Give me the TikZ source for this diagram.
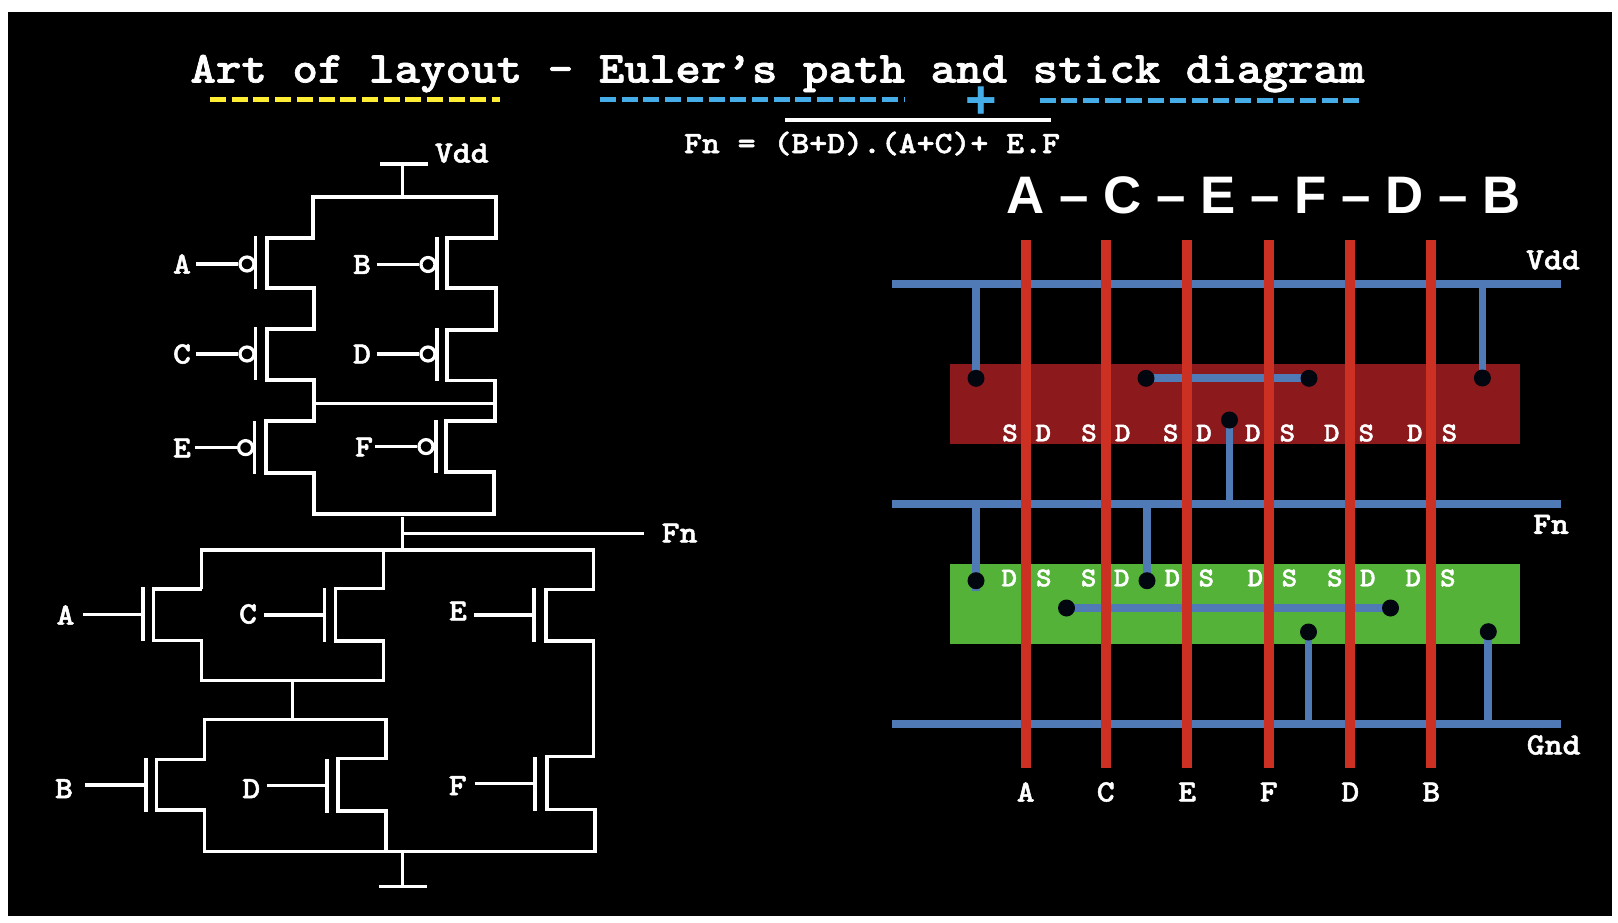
\documentclass[tikz,border=0pt]{standalone}
\usepackage{fontspec}
\newfontfamily\slabfont{lmmonolt10-bold.otf}[FakeStretch=1.1, FakeBold=1.6]
\setsansfont{Liberation Sans}
\definecolor{railblue}{HTML}{4F7AB5}
\definecolor{polyred}{HTML}{CC3022}
\definecolor{pboxred}{HTML}{8C1A1D}
\definecolor{nboxgreen}{HTML}{53B237}
\definecolor{lineblue}{HTML}{45ADE8}
\definecolor{lineyellow}{HTML}{FFEE33}
\definecolor{contactdark}{HTML}{02060F}
\tikzset{
	wire/.style={draw=white, line width=1.6pt, line join=miter},
	gatebar/.style={fill=white, inner sep=0pt, minimum width=1.6pt},
	bubble/.style={circle, draw=white, fill=black, line width=1.6pt, inner sep=0pt, minimum size=7pt},
	title/.style={text=white, text depth=0pt, font=\slabfont\fontsize{22.1}{24}\selectfont},
	lbl/.style={text=white, inner sep=0pt, font=\slabfont\fontsize{15.5}{18}\selectfont},
	sd/.style={text=white, inner sep=0pt, font=\slabfont\fontsize{13.5}{15}\selectfont},
	under/.style={line width=2.5pt, dash pattern=on 8pt off 2.85pt},
	rail/.style={draw=railblue, line width=3.85pt},
	stem/.style={draw=railblue, line width=3.9pt},
	poly/.style={draw=polyred, line width=5pt},
	contact/.style={circle, fill=contactdark, inner sep=0pt, minimum size=8.5pt}
}

\begin{document}
\begin{tikzpicture}[x=0.5pt, y=-0.5pt]
	\useasboundingbox (0, 0) rectangle (1618, 922);
	\fill[white] (0, 0) rectangle (1618, 922);
	\fill[black] (8, 12) rectangle (1612, 916);

	% heading
	\node[title, anchor=base] at (777.5, 82.5) (head) {Art of layout – Euler’s path and stick diagram};
	\coordinate (u1a) at (210, 99.5);
	\coordinate (u1b) at (499.5, 99.5);
	\coordinate (u2a) at (600, 99.5);
	\coordinate (u2b) at (904.5, 99.5);
	\coordinate (u3a) at (1039.6, 100.7);
	\coordinate (u3b) at (1360, 100.7);
	\draw[under, draw=lineyellow] (u1a) -- (u1b);
	\draw[under, draw=lineblue] (u2a) -- (u2b);
	\draw[under, draw=lineblue] (u3a) -- (u3b);
	\node[text=lineblue, inner sep=0pt, font=\sffamily\bfseries\fontsize{27}{27}\selectfont] at (981.3, 102.7) (plus) {+};
	\coordinate (bara) at (785, 120);
	\coordinate (barb) at (1050.5, 120);
	\draw[wire] (bara) -- (barb);
	\node[lbl, anchor=base] at (872, 153) (fn) {Fn = (B+D).(A+C)+ E.F};

	% pull up network
	\node[lbl] at (461.8, 153.2) (vdd) {Vdd};
	\coordinate (vdda) at (380, 164);
	\coordinate (vddb) at (428, 164);
	\coordinate (vddc) at (402.5, 164);
	\coordinate (vddd) at (402.5, 197);
	\draw[wire] (vdda) -- (vddb);
	\draw[wire] (vddc) -- (vddd);

	\draw[wire] (496, 238) -- (496, 197) -- (313, 197) -- (313, 238) -- (267, 238) -- (267, 288) -- (314, 288)
		-- (314, 329) -- (267, 329) -- (267, 380) -- (314, 380) -- (314, 421) -- (266, 421) -- (266, 473)
		-- (314, 473) -- (314, 514) -- (494, 514) -- (494, 472) -- (446, 472) -- (446, 421) -- (495, 421)
		-- (495, 380.5) -- (447, 380.5) -- (447, 330) -- (496, 330) -- (496, 288) -- (447, 288) -- (447, 238) -- cycle;
	\coordinate (tiea) at (314, 403.6);
	\coordinate (tieb) at (495, 403.6);
	\draw[wire] (tiea) -- (tieb);

	\node[lbl] at (182, 264) (pa) {A};
	\node[lbl] at (362, 264.5) (pb) {B};
	\node[lbl] at (182, 354) (pc) {C};
	\node[lbl] at (362, 354) (pd) {D};
	\node[lbl] at (182, 448) (pe) {E};
	\node[lbl] at (364, 447) (pf) {F};

	\node[gatebar, minimum height=26.5pt] at (255.5, 262.5) (gpa) {};
	\node[gatebar, minimum height=26.5pt] at (437, 263.3) (gpb) {};
	\node[gatebar, minimum height=26.5pt] at (255.5, 353.7) (gpc) {};
	\node[gatebar, minimum height=26.5pt] at (437, 354.5) (gpd) {};
	\node[gatebar, minimum height=26.5pt] at (254.4, 447) (gpe) {};
	\node[gatebar, minimum height=26.5pt] at (436, 446.3) (gpf) {};

	\node[bubble] at (247, 264) (ba) {};
	\node[bubble] at (428, 264.5) (bb) {};
	\node[bubble] at (247, 354) (bc) {};
	\node[bubble] at (428, 354) (bd) {};
	\node[bubble] at (245.6, 447.6) (be) {};
	\node[bubble] at (426, 446.6) (bf) {};

	\coordinate (ipa) at (196, 264);
	\coordinate (ipb) at (376.7, 264.5);
	\coordinate (ipc) at (196, 354);
	\coordinate (ipd) at (376.7, 354);
	\coordinate (ipe) at (194.5, 447.6);
	\coordinate (ipf) at (375, 446.6);
	\draw[wire] (ipa) -- (ba);
	\draw[wire] (ipb) -- (bb);
	\draw[wire] (ipc) -- (bc);
	\draw[wire] (ipd) -- (bd);
	\draw[wire] (ipe) -- (be);
	\draw[wire] (ipf) -- (bf);

	% output
	\coordinate (outa) at (402.5, 517);
	\coordinate (outb) at (402.5, 550);
	\coordinate (outc) at (402.5, 533.7);
	\coordinate (outd) at (644, 533.7);
	\draw[wire] (outa) -- (outb);
	\draw[wire] (outc) -- (outd);
	\node[lbl] at (679.6, 533) (fnl) {Fn};

	% pull down network
	\draw[wire] (201.8, 589) -- (201.8, 550) -- (593.4, 550) -- (593.4, 589.3) -- (546, 589.3) -- (546, 641)
		-- (593.4, 641) -- (593.4, 756.7) -- (547, 756.7) -- (547, 809.3) -- (595, 809.3) -- (595, 851.3)
		-- (204.3, 851.3) -- (204.3, 810) -- (156.3, 810) -- (156.3, 759.3) -- (204.3, 759.3) -- (204.3, 719.3)
		-- (386, 719.3) -- (386, 758.3) -- (338, 758.3) -- (338, 811) -- (386, 811) -- (386, 851.3);
	\draw[wire] (201.8, 589) -- (153.8, 589) -- (153.8, 640.3) -- (201.2, 640.3) -- (201.2, 680.3) -- (383.4, 680.3)
		-- (383.4, 641) -- (335.4, 641) -- (335.4, 588.3) -- (383.4, 588.3) -- (383.4, 550);
	\coordinate (linka) at (292.6, 680.3);
	\coordinate (linkb) at (292.6, 719.3);
	\draw[wire] (linka) -- (linkb);

	\node[lbl] at (65.5, 615) (na) {A};
	\node[lbl] at (248, 614) (nc) {C};
	\node[lbl] at (458, 611) (ne) {E};
	\node[lbl] at (64, 788.7) (nb) {B};
	\node[lbl] at (251.3, 788.7) (nd) {D};
	\node[lbl] at (457.7, 785.7) (nf) {F};

	\node[gatebar, minimum height=27pt] at (143, 614.2) (gna) {};
	\node[gatebar, minimum height=27pt] at (324.6, 615) (gnc) {};
	\node[gatebar, minimum height=27pt] at (534, 615) (gne) {};
	\node[gatebar, minimum height=27pt] at (146, 785) (gnb) {};
	\node[gatebar, minimum height=27pt] at (327, 785.7) (gnd) {};
	\node[gatebar, minimum height=27pt] at (535, 783.8) (gnf) {};

	\coordinate (ina) at (83, 614.2);
	\coordinate (inc) at (264, 615);
	\coordinate (ine) at (474, 615);
	\coordinate (inb) at (85, 785);
	\coordinate (ind) at (266.8, 785.7);
	\coordinate (inf) at (474.7, 783.8);
	\draw[wire] (ina) -- (gna);
	\draw[wire] (inc) -- (gnc);
	\draw[wire] (ine) -- (gne);
	\draw[wire] (inb) -- (gnb);
	\draw[wire] (ind) -- (gnd);
	\draw[wire] (inf) -- (gnf);

	\coordinate (gnda) at (402.5, 851.3);
	\coordinate (gndb) at (402.5, 886.3);
	\coordinate (gndc) at (379, 886.3);
	\coordinate (gndd) at (426.7, 886.3);
	\draw[wire] (gnda) -- (gndb);
	\draw[wire] (gndc) -- (gndd);

	% stick diagram
	\node[text=white, inner sep=0pt, font=\sffamily\bfseries\fontsize{26.4}{30}\selectfont] at (1263.5, 195) (order) {A – C – E – F – D – B};

	\fill[pboxred] (950, 364) rectangle (1520, 443.7);
	\fill[nboxgreen] (950, 564) rectangle (1520, 643.7);

	\coordinate (vddl) at (891.6, 284);
	\coordinate (vddr) at (1561.3, 284);
	\coordinate (fnl2) at (891.6, 504);
	\coordinate (fnr2) at (1561.3, 504);
	\coordinate (gndl) at (891.6, 724);
	\coordinate (gndr) at (1561.3, 724);
	\draw[rail] (vddl) -- (vddr);
	\draw[rail] (fnl2) -- (fnr2);
	\draw[rail] (gndl) -- (gndr);

	\coordinate (cp1) at (976, 378.3);
	\coordinate (cp2) at (1146, 378.3);
	\coordinate (cp3) at (1309, 378.3);
	\coordinate (cp4) at (1482.4, 378);
	\coordinate (cp5) at (1229.5, 420);
	\coordinate (cn1) at (976, 580.7);
	\coordinate (cn2) at (1147, 580.7);
	\coordinate (cn3) at (1066.5, 608);
	\coordinate (cn4) at (1390.5, 608);
	\coordinate (cn5) at (1308.5, 632);
	\coordinate (cn6) at (1488.3, 631.7);
	\coordinate (cnt) at (976, 591);

	\draw[stem] (cp1 |- vddl) -- (cp1);
	\draw[stem] (cp4 |- vddl) -- (cp4);
	\draw[stem] (cp2) -- (cp3);
	\draw[stem] (cp5) -- (cp5 |- fnl2);
	\draw[stem] (cn1 |- fnl2) -- (cnt);
	\draw[stem] (cn2 |- fnl2) -- (cn2);
	\draw[stem] (cn3) -- (cn4);
	\draw[stem] (cn5) -- (cn5 |- gndl);
	\draw[stem] (cn6) -- (cn6 |- gndl);

	% contacts sit on top of the metal
	\foreach \nm in {cp1, cp2, cp3, cp4, cp5, cn1, cn2, cn3, cn4, cn5, cn6}
		\node[contact] at (\nm) (dot\nm) {};

	\foreach \nm/\px/\tx in {a/1025.7/A, c/1105.7/C, e/1187.2/E, f/1268.8/F, d/1350.3/D, b/1431.3/B} {
		\coordinate (pt\nm) at (\px, 240);
		\coordinate (pb\nm) at (\px, 768);
		\draw[poly] (pt\nm) -- (pb\nm);
		\node[lbl] at (\px, 792) (pl\nm) {\tx};
	}

	\node[lbl] at (1553, 260) (rvdd) {Vdd};
	\node[lbl] at (1551, 524.3) (rfn) {Fn};
	\node[lbl] at (1553.6, 745) (rgnd) {Gnd};

	\foreach \i/\px/\tx in {1/1010/S, 2/1043.3/D, 3/1089/S, 4/1122.7/D, 5/1170.7/S, 6/1204/D, 7/1252.8/D, 8/1287.3/S, 9/1331.7/D, 10/1366.3/S, 11/1414.8/D, 12/1449.4/S}
		\node[sd] at (\px, 433) (sp\i) {\tx};
	\foreach \i/\px/\tx in {1/1009.2/D, 2/1043.8/S, 3/1088.7/S, 4/1121.7/D, 5/1172.3/D, 6/1206.3/S, 7/1255.3/D, 8/1289.4/S, 9/1334.8/S, 10/1367.8/D, 11/1413.2/D, 12/1447.8/S}
		\node[sd] at (\px, 578) (sn\i) {\tx};
\end{tikzpicture}
\end{document}
